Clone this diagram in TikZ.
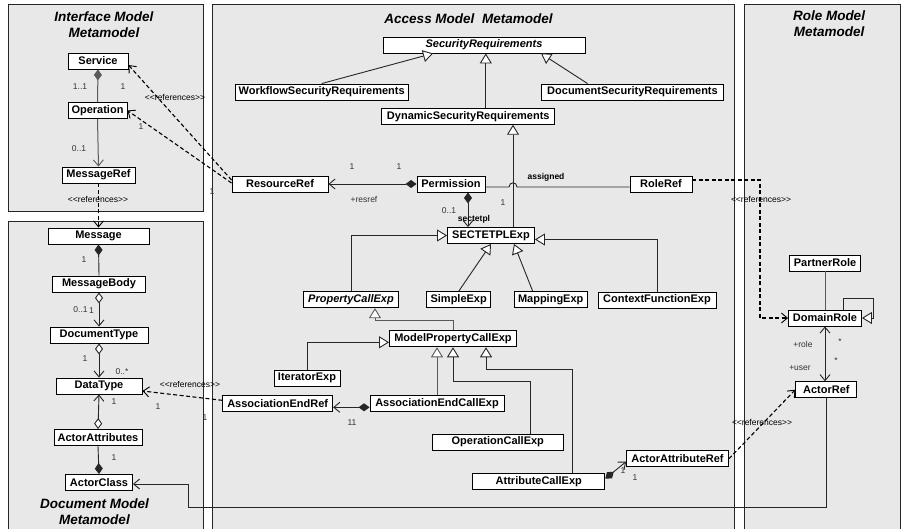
\documentclass[tikz,border=0pt]{standalone}
\usepackage{fontspec}
\setmainfont{Liberation Sans}
\usetikzlibrary{arrows.meta}
\definecolor{panelgray}{HTML}{E8E8E8}
\definecolor{linedark}{HTML}{262626}
\definecolor{linemid}{HTML}{5A5A5A}
% stereotype text, with the angle brackets kept apart so they stay plain
\newcommand{\stereo}[1]{\textless\kern0pt\textless #1\textgreater\kern0pt\textgreater}
\begin{document}
\begin{tikzpicture}[x=1pt,y=-1pt,
  panel/.style={draw=black!85, line width=0.9pt, fill=panelgray},
  cls/.style={draw=black, line width=0.9pt, fill=white, minimum height=16pt,
    inner xsep=1pt, inner ysep=0pt, font=\fontsize{11}{13}\selectfont\bfseries},
  ital/.style={font=\fontsize{11}{13}\selectfont\bfseries\itshape},
  title/.style={font=\fontsize{13.5}{16}\selectfont\bfseries\itshape, align=center, inner sep=0pt},
  mult/.style={font=\fontsize{8.5}{10}\selectfont, text=black!80, inner sep=0pt},
  role/.style={font=\fontsize{8.5}{10}\selectfont\bfseries, inner sep=0pt},
  reflbl/.style={font=\fontsize{8.5}{10}\selectfont, inner sep=0pt},
  cline/.style={draw=linedark, line width=0.9pt},
  gline/.style={draw=linemid, line width=1pt},
  refline/.style={draw=black, line width=1.1pt, dash pattern=on 4pt off 2.5pt, -Barb},
  Barb/.tip={Straight Barb[length=6pt,width=10pt,line width=0.9pt]},
  Fdia/.tip={Diamond[length=11pt,width=8pt]},
  Odia/.tip={Diamond[open,fill=white,length=11pt,width=8pt]},
  Gtri/.tip={Triangle[open,fill=white,length=10pt,width=12pt,line width=0.9pt]},
]
\useasboundingbox (0,0) rectangle (901,529);
\clip (0,0) rectangle (901,529);
\fill[white] (0,0) rectangle (901,529);

% ---------- packages ----------
\path[panel] (8,4) rectangle (203,211);
\path[panel] (8,221) rectangle (203,545);
\path[panel] (212,4) rectangle (734,545);
\path[panel] (744,4) rectangle (900,545);

\node[title] (tIface) at (104,25) {Interface Model\\Metamodel};
\node[title] (tAccess) at (468.5,19) {Access Model\ \ Metamodel};
\node[title] (tRole) at (829,24) {Role Model\\Metamodel};
\node[title] (tDoc) at (94.5,512) {Document Model\\Metamodel};

% ---------- interface model ----------
\node[cls, minimum width=60] (svc) at (98,61) {Service};
\node[cls, minimum width=59] (op) at (97.5,110.5) {Operation};
\node[cls, minimum width=73] (mref) at (98.5,175) {MessageRef};

% ---------- document model ----------
\node[cls, minimum width=101] (msg) at (98.5,236) {Message};
\node[cls, minimum width=93] (mbody) at (99,284) {MessageBody};
\node[cls, minimum width=98] (doctype) at (99,335) {DocumentType};
\node[cls, minimum width=86] (dtype) at (99,386) {DataType};
\node[cls, minimum width=88] (aattr) at (98,437.5) {ActorAttributes};
\node[cls, minimum width=67] (aclass) at (99,482.5) {ActorClass};

% ---------- access model ----------
\node[cls, ital, minimum width=202] (secreq) at (484,45) {SecurityRequirements};
\node[cls, minimum width=173] (wfsr) at (321.7,92) {WorkflowSecurityRequirements};
\node[cls, minimum width=182] (docsr) at (632.5,92) {DocumentSecurityRequirements};
\node[cls, minimum width=173] (dynsr) at (468.3,116.3) {DynamicSecurityRequirements};
\node[cls, minimum width=96] (resref) at (280,184) {ResourceRef};
\node[cls, minimum width=68] (perm) at (451,184) {Permission};
\node[cls, minimum width=62] (roleref) at (661,184) {RoleRef};
\node[cls, minimum width=87] (sectetpl) at (491,235.5) {SECTETPLExp};
\node[cls, ital, minimum width=95] (pce) at (351,299.7) {PropertyCallExp};
\node[cls, minimum width=64] (simple) at (458.7,299.7) {SimpleExp};
\node[cls, minimum width=73] (mapping) at (550.7,299.7) {MappingExp};
\node[cls, minimum width=118] (ctxfn) at (657,300) {ContextFunctionExp};
\node[cls, minimum width=127] (mpce) at (453,338.8) {ModelPropertyCallExp};
\node[cls, minimum width=66] (iter) at (307,378) {IteratorExp};
\node[cls, minimum width=110] (aeref) at (277.7,403.3) {AssociationEndRef};
\node[cls, minimum width=134] (aecall) at (437,403.3) {AssociationEndCallExp};
\node[cls, minimum width=131] (opcall) at (497.8,442) {OperationCallExp};
\node[cls, minimum width=132] (attrcall) at (538.8,481.7) {AttributeCallExp};
\node[cls, minimum width=102] (aaref) at (677.5,458.7) {ActorAttributeRef};

% ---------- role model ----------
\node[cls, minimum width=71] (partner) at (825,263) {PartnerRole};
\node[cls, minimum width=73] (domain) at (825,318) {DomainRole};
\node[cls, minimum width=61] (actorref) at (826.3,389.7) {ActorRef};

% ---------- interface model links ----------
\draw[gline, Fdia-] (svc.south) -- (op.north);
\draw[gline, -Barb] (op.south) -- (mref.north);
\node[mult] (mSvcA) at (80,87) {1..1};
\node[mult] (mSvcC) at (123,87) {1};
\node[mult] (mOp) at (79,149) {0..1};

% references from ResourceRef into the interface model
\node[reflbl] (rl1) at (175,97) {\stereo{references}};
\draw[refline] ([yshift=4pt]resref.west) -- ([yshift=-4pt]svc.east);
\draw[refline] ([yshift=1pt]resref.west) -- (op.east);
\node[mult] (mRrA) at (141,127) {1};
\node[mult] (mRrB) at (212,192) {1};

% interface to document model
\node[reflbl] (rl2) at (98,199) {\stereo{references}};
\draw[refline] (mref.south) -- (msg.north);

% ---------- document model links ----------
\draw[cline, Fdia-] (msg.south) -- (mbody.north);
\node[mult] (mMsg) at (84,260) {1};
\draw[cline, Odia-Barb] (mbody.south) -- (doctype.north);
\node[mult] (mBodyA) at (80.5,309.5) {0..1};
\node[mult] (mBodyB) at (91.5,311) {1};
\draw[cline, Odia-Barb] (doctype.south) -- (dtype.north);
\node[mult] (mDocA) at (85,359) {1};
\node[mult] (mDocB) at (122,372) {0..*};
\draw[cline, Odia-Barb] (aattr.north) -- (dtype.south);
\node[mult] (mAttrA) at (114,402) {1};
\draw[cline, -Fdia] (aattr.south) -- (aclass.north);
\node[mult] (mAttrB) at (114,458) {1};

\node[reflbl] (rl3) at (190,384) {\stereo{references}};
\draw[refline] ([yshift=3pt]aeref.west) -- ([yshift=-5pt]dtype.east);
\node[mult] (mAerA) at (158,407) {1};
\node[mult] (mAerB) at (205,418) {1};

% ActorRef back to ActorClass
\coordinate (elbow1) at (188,507);
\draw[cline, -Barb] (actorref.south) |- (elbow1) |- ([yshift=-1.5pt]aclass.east);

% ---------- access model links ----------
\draw[cline, -Gtri] (wfsr.north) -- ([xshift=-51pt]secreq.south);
\draw[cline, -Gtri] ([xshift=17.5pt]dynsr.north) -- ([xshift=17.5pt]dynsr.north |- secreq.south);
\draw[cline, -Gtri] ([xshift=-45pt]docsr.north) -- ([xshift=57pt]secreq.south);

\draw[cline, Fdia-Barb] (perm.west) -- (resref.east);
\node[mult] (mPrA) at (352,167) {1};
\node[mult] (mPrB) at (399,167) {1};
\node[mult] (mPrC) at (364,199) {+resref};

\draw[cline] ([yshift=-3pt]perm.east) -- (509,187) .. controls (509,181.5) and (517,181.5) .. (517,187) -- ([yshift=-3pt]roleref.west);
\node[role] (lAssigned) at (546,177) {assigned};

\coordinate (hopx) at (513,0);
\draw[cline, -Gtri] (sectetpl.north -| hopx) -- (dynsr.south -| hopx);
\node[mult] (mSec) at (503,203) {1};

\coordinate (permx) at (468,0);
\draw[cline, Fdia-Barb] (perm.south -| permx) -- (sectetpl.north -| permx);
\node[mult] (mPsA) at (449,210.5) {0..1};
\node[role] (lSectetpl) at (474,219) {sectetpl};

\draw[cline, -Gtri] (pce.north) |- (sectetpl.west);
\draw[cline, -Gtri] (simple.north) -- (sectetpl.south);
\draw[cline, -Gtri] ([xshift=-18pt]mapping.north) -- ([xshift=23pt]sectetpl.south);
\draw[cline, -Gtri] (ctxfn.north) |- ([yshift=-4pt]sectetpl.east);

\coordinate (bend1) at (375,320);
\draw[gline, -Gtri] (mpce.north) |- (bend1) -- (bend1 |- pce.south);
\draw[cline, -Gtri] (iter.north) |- ([yshift=-3.5pt]mpce.west);
\draw[gline, -Gtri] (aecall.north) -- (aecall.north |- mpce.south);
\coordinate (bend2) at (530,381.5);
\coordinate (bend3) at (453,381.5);
\draw[cline, -Gtri] (bend2 |- opcall.north) -- (bend2) -- (bend3) -- (bend3 |- mpce.south);
\coordinate (bend4) at (572,369.3);
\coordinate (bend5) at (486,369.3);
\draw[cline, -Gtri] (bend4 |- attrcall.north) -- (bend4) -- (bend5) -- (bend5 |- mpce.south);

\draw[cline, Fdia-Barb] ([yshift=-4pt]aecall.west) -- ([yshift=-4pt]aeref.east);
\node[mult] (mAec) at (352,423) {11};

\draw[cline, Fdia-Barb] ([yshift=3pt]attrcall.east) -- ([yshift=-3pt]aaref.west);
\node[mult] (mAcA) at (623,471) {1};
\node[mult] (mAcB) at (635,477.5) {1};

% access model to role model
\node[reflbl] (rl4) at (762,422) {\stereo{references}};
\draw[refline] (aaref.east) -- (actorref.west);

\coordinate (bend6) at (760,180);
\node[reflbl] (rl5) at (761,199) {\stereo{references}};
\draw[refline] (roleref.east |- bend6) -- (bend6) |- (domain.west);

% ---------- role model links ----------
\draw[gline] (partner.south) -- (domain.north);
\coordinate (bend7) at (873,298);
\draw[cline, -Gtri] ([xshift=18pt]domain.north) |- (bend7) |- (domain.east);
\draw[cline, Barb-Barb] (domain.south) -- (domain.south |- actorref.north);
\node[mult] (mRole) at (803,344) {+role};
\node[mult] (mStarA) at (840,342) {*};
\node[mult] (mStarB) at (836,361) {*};
\node[mult] (mUser) at (800,368) {+user};
\end{tikzpicture}
\end{document}
